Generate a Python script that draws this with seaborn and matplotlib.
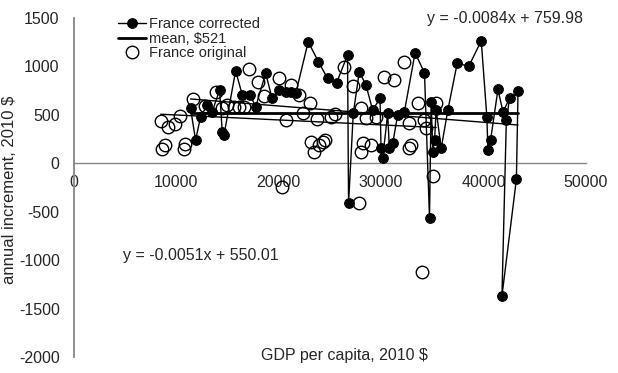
import numpy as np
import pandas as pd
import matplotlib
matplotlib.use("Agg")
import matplotlib.pyplot as plt
import seaborn as sns
from matplotlib.ticker import MultipleLocator, FixedLocator

# ---------------- data ----------------
gdp_corrected = [11420, 11910, 12400, 13040, 13530, 14250, 14510, 14680, 15820, 16470,
                 17240, 17780, 18750, 19370, 20060, 20710, 21200, 21690, 22900, 23900,
                 24790, 25670, 26740, 26840, 27300, 27890, 28540, 29190, 29910, 30010,
                 30170, 30660, 30820, 31150, 31630, 32290, 33330, 34250, 34740, 34900,
                 35060, 35230, 35390, 35880, 36530, 37440, 38580, 39790, 40340, 40440,
                 40700, 41420, 41910, 42560, 42240, 41810, 43220, 43380]
inc_corrected = [567, 240, 480, 601, 532, 756, 326, 292, 955, 704,
                 704, 584, 928, 675, 756, 738, 732, 722, 1254, 1048,
                 876, 831, 1117, -412, 515, 944, 807, 549, 670, 155,
                 55, 515, 155, 206, 498, 532, 1140, 934, -561, 635,
                 120, 240, 549, 155, 549, 1031, 1003, 1264, 474, 137,
                 240, 763, 532, 670, 446, -1368, -165, 745]

gdp_original = [8500, 9200, 9950, 10400, 8650, 8900, 10750, 10850, 11650, 12800,
                13950, 14450, 15000, 15660, 16140, 16630, 17100, 18000, 18550, 20100,
                21250, 22020, 23100, 22400, 20710, 23800, 25110, 25550, 26420, 27270,
                23160, 23480, 23970, 24300, 24500, 28050, 28540, 29520, 28210, 28050,
                29030, 30330, 31250, 32290, 33590, 32780, 34250, 34410, 35390, 32940,
                32780, 20380, 27890, 33990, 35060]
inc_original = [440, 370, 405, 490, 150, 190, 150, 200, 660, 590,
                735, 567, 601, 584, 584, 577, 970, 841, 695, 885,
                807, 704, 625, 515, 446, 455, 480, 505, 996, 800,
                223, 120, 189, 223, 245, 567, 464, 480, 206, 115,
                189, 893, 859, 1048, 618, 412, 446, 361, 618, 189,
                155, -241, -412, -1117, -131]

mean_value = 521
trend_corrected = (-0.0084, 759.98)
trend_original = (-0.0051, 550.01)
eq_corrected = "y = -0.0084x + 759.98"
eq_original = "y = -0.0051x + 550.01"

series_labels = ["France corrected", "mean, $521", "France original"]
x_label = "GDP per capita, 2010 $"
y_label = "annual increment, 2010 $"
x_ticks = [0, 10000, 20000, 30000, 40000, 50000]
y_ticks = [-2000, -1500, -1000, -500, 0, 500, 1000, 1500]

# ---------------- figure ----------------
sns.set_style("white")
plt.rcParams["font.family"] = ["Liberation Sans", "DejaVu Sans"]
plt.rcParams["font.size"] = 11.5

fig = plt.figure(figsize=(6.18, 3.73), dpi=100)
ax = fig.add_axes([0.119, 0.042, 0.829, 0.910])

# corrected series (filled markers, connected in time order)
sns.lineplot(x=gdp_corrected, y=inc_corrected, sort=False, estimator=None,
             color="black", linewidth=1, marker="o", markersize=7,
             markerfacecolor="black", markeredgecolor="black",
             label=series_labels[0], ax=ax, zorder=3)

# mean line
xc_min, xc_max = min(gdp_corrected), max(gdp_corrected)
mean_df = pd.DataFrame({"x": [xc_min, xc_max], "y": [mean_value, mean_value]})
sns.lineplot(data=mean_df, x="x", y="y", color="black", linewidth=2,
             label=series_labels[1], ax=ax, zorder=2)

# original series (open markers)
sns.lineplot(x=gdp_original, y=inc_original, sort=False, estimator=None,
             color="black", linestyle="", marker="o", markersize=9,
             markerfacecolor="none", markeredgecolor="black", markeredgewidth=1,
             label=series_labels[2], ax=ax, zorder=4)

# trend lines from the stated equations
xo_min, xo_max = min(gdp_original), max(gdp_original)
tc_df = pd.DataFrame({"x": [xc_min, xc_max],
                      "y": [trend_corrected[0] * xc_min + trend_corrected[1],
                            trend_corrected[0] * xc_max + trend_corrected[1]]})
to_df = pd.DataFrame({"x": [xo_min, xo_max],
                      "y": [trend_original[0] * xo_min + trend_original[1],
                            trend_original[0] * xo_max + trend_original[1]]})
sns.lineplot(data=tc_df, x="x", y="y", color="black", linewidth=1, ax=ax,
             legend=False, zorder=2)
sns.lineplot(data=to_df, x="x", y="y", color="black", linewidth=1, ax=ax,
             legend=False, zorder=2)

# equation labels
ax.text(42100, 1492, eq_corrected, ha="center", va="center", fontsize=11.5)
ax.text(12440, -951, eq_original, ha="center", va="center", fontsize=11.5)

# axes styling
ax.set_xlim(0, 50000)
ax.set_ylim(-2000, 1500)
ax.xaxis.set_major_locator(FixedLocator(x_ticks))
ax.xaxis.set_minor_locator(MultipleLocator(2000))
ax.yaxis.set_major_locator(FixedLocator(y_ticks))
ax.set_xticklabels([str(t) for t in x_ticks])
ax.set_yticklabels([str(t) for t in y_ticks])

for s in ["top", "right"]:
    ax.spines[s].set_visible(False)
ax.spines["bottom"].set_position(("data", 0))
ax.spines["bottom"].set_color("#858585")
ax.spines["left"].set_color("#858585")
ax.spines["bottom"].set_linewidth(1.0)
ax.spines["left"].set_linewidth(1.3)
ax.tick_params(axis="x", which="both", direction="out", length=3.5, width=0.8,
               color="#858585", pad=5, labelsize=11.5)
ax.tick_params(axis="y", which="both", direction="out", length=3, width=0.8,
               color="#858585", pad=7, labelsize=11.5)
ax.grid(False)

ax.set_xlabel(x_label, fontsize=11.5)
ax.set_ylabel(y_label, fontsize=12)
ax.xaxis.set_label_coords(0.528, 0.004)
ax.xaxis.label.set_va("center")
ax.yaxis.set_label_coords(-0.125, 0.493)
ax.yaxis.label.set_va("center")

handles, labels = ax.get_legend_handles_labels()
order = [labels.index(l) for l in series_labels]
ax.legend([handles[i] for i in order], [labels[i] for i in order],
          loc="upper left", bbox_to_anchor=(118 / 618, 1 - 17 / 373),
          bbox_transform=fig.transFigure, frameon=False, fontsize=10.5,
          handlelength=1.9, handletextpad=0.2, labelspacing=0.05,
          borderpad=0, borderaxespad=0)

fig.savefig("out.png", dpi=100)
